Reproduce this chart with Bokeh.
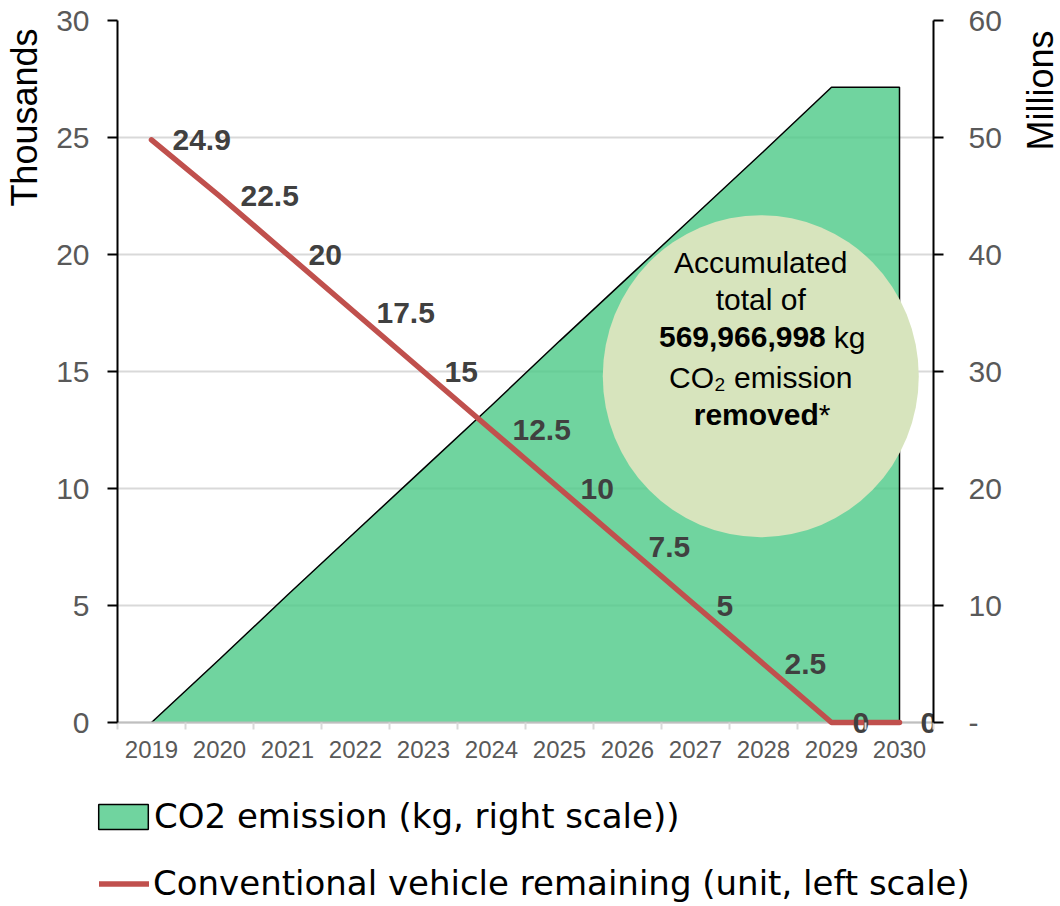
import math
from bokeh.plotting import figure
from bokeh.layouts import column, row
from bokeh.models import (Range1d, LinearAxis, FixedTicker, Grid, Legend, LegendItem,
                          ColumnDataSource, Label)
from bokeh.core.properties import value
from bokeh.embed import file_html
from bokeh.resources import INLINE

# ---------------- data ----------------
years = [2019, 2020, 2021, 2022, 2023, 2024, 2025, 2026, 2027, 2028, 2029, 2030]
vehicles_thousands = [24.9, 22.5, 20, 17.5, 15, 12.5, 10, 7.5, 5, 2.5, 0, 0]
co2_millions_kg = [0, 5.4, 10.9, 16.3, 21.7, 27.1, 32.6, 38.0, 43.4, 48.8, 54.3, 54.3]
left_ticks = [0, 5, 10, 15, 20, 25, 30]
right_ticks = [0, 10, 20, 30, 40, 50, 60]
left_title = "Thousands"
right_title = "Millions"
area_label = "CO2 emission (kg, right scale))"
line_label = "Conventional vehicle remaining (unit, left scale)"
bubble_lines = ["Accumulated", "total of", "569,966,998", "kg", "CO\u2082 emission", "removed", "*"]

FONT = "Liberation Sans"
LEG_FONT = "DejaVu Sans"
AREA_FILL = "#4cc987"
LINE_COLOR = "#c0504d"

MAIN_H = 780
LEG_H = 126
LT_W, RT_W = 45, 40
MAIN_W = 1060 - LT_W - RT_W

# frame extends 18px below the zero line so that labels sitting on zero are not clipped
L_MAX, R_MAX = left_ticks[-1], right_ticks[-1]
PAD_L = 18 / 702 * L_MAX
PAD_R = 18 / 702 * R_MAX
X0, X1 = years[0] - 0.5, years[-1] + 0.5

p = figure(width=MAIN_W, height=MAIN_H, output_backend="svg", toolbar_location=None,
           x_range=Range1d(X0, X1), y_range=Range1d(-PAD_L, L_MAX),
           min_border_left=117 - LT_W, min_border_right=1060 - RT_W - 933,
           min_border_top=20, min_border_bottom=40,
           x_axis_type=None, y_axis_type=None)
p.outline_line_color = None
p.frame_align = False
p.extra_y_ranges = {"right": Range1d(-PAD_R, R_MAX)}

# bottom axis (labels + category separators; the zero line is drawn below as a baseline)
minor = [y - 0.5 for y in years] + [years[-1] + 0.5]
xaxis = LinearAxis(ticker=FixedTicker(ticks=years, minor_ticks=minor))
xaxis.axis_line_color = None
xaxis.major_tick_line_color = None
xaxis.major_tick_out = 0
xaxis.major_tick_in = 0
xaxis.minor_tick_line_color = "#d9d9d9"
xaxis.minor_tick_line_width = 2
xaxis.minor_tick_in = 18
xaxis.minor_tick_out = -11
xaxis.major_label_standoff = 0
xaxis.major_label_text_font = FONT
xaxis.major_label_text_font_size = "24px"
xaxis.major_label_text_color = "#595959"
p.add_layout(xaxis, "below")


def style_value_axis(ax, standoff):
    ax.axis_line_color = "black"
    ax.axis_line_width = 2
    ax.major_tick_line_color = "black"
    ax.major_tick_line_width = 2
    ax.major_tick_out = 10
    ax.major_tick_in = 0
    ax.minor_tick_line_color = None
    ax.major_label_standoff = standoff
    ax.major_label_text_font = FONT
    ax.major_label_text_font_size = "30px"
    ax.major_label_text_color = "#595959"


yaxis = LinearAxis(ticker=FixedTicker(ticks=left_ticks), bounds=(0, L_MAX))
style_value_axis(yaxis, 18)
p.add_layout(yaxis, "left")

raxis = LinearAxis(y_range_name="right", ticker=FixedTicker(ticks=right_ticks),
                   bounds=(0, R_MAX))
style_value_axis(raxis, 25)
raxis.major_label_overrides = {0: "-"}
p.add_layout(raxis, "right")

# grid
grid = Grid(dimension=1, ticker=yaxis.ticker)
grid.grid_line_color = "#d9d9d9"
grid.grid_line_width = 2
p.add_layout(grid)

# area (right scale): fill + outline along its top and right edge
area_x = years + [years[-1], years[0]]
area_y = co2_millions_kg + [0, 0]
p.patch(area_x, area_y, y_range_name="right", fill_color=AREA_FILL, fill_alpha=0.8,
        line_color=None)
p.line(years + [years[-1]], co2_millions_kg + [0], y_range_name="right",
       line_color="black", line_width=1.5)

# zero baseline (category axis line)
p.line([X0, X1], [0, 0], line_color="#bfbfbf", line_width=2)

# bubble annotation
p.ellipse(x=[2027.96], y=[14.8], width=[316], height=[322], width_units="screen",
          height_units="screen", fill_color="#d7e4bd", line_color=None)

# line (left scale)
p.line(years, vehicles_thousands, line_color=LINE_COLOR, line_width=5.5,
       line_cap="round", line_join="round")

# data labels
lab_src = ColumnDataSource(dict(x=years, y=vehicles_thousands,
                                t=[f"{v:g}" for v in vehicles_thousands]))
p.text(x="x", y="y", text="t", source=lab_src, x_offset=21, text_align="left",
       text_baseline="middle", text_font=value(FONT), text_font_size="30px",
       text_font_style="bold", text_color="#404040")

# bubble text
bsrc = ColumnDataSource(dict(
    x=[2027.96] * 7, y=[14.8] * 7, t=bubble_lines,
    style=["normal", "normal", "bold", "normal", "normal", "bold", "normal"],
    align=["center", "center", "right", "left", "center", "right", "left"],
    xo=[0, 0, 65, 73, 0, 58, 58],
    yo=[-114, -77, -39, -39, 1, 38, 38],
))
p.text(x="x", y="y", text="t", source=bsrc, x_offset="xo", y_offset="yo",
       text_align="align", text_baseline="middle", text_font=value(FONT),
       text_font_size="30px", text_font_style="style", text_color="black")


# ---------------- axis-title strips (titles sit near the top, as in the original) ----
def title_strip(w, title, cx, top):
    f = figure(width=w, height=MAIN_H, output_backend="svg", toolbar_location=None,
               x_range=Range1d(0, w), y_range=Range1d(0, MAIN_H), min_border=0,
               x_axis_type=None, y_axis_type=None)
    f.outline_line_color = None
    f.frame_align = False
    f.xgrid.visible = False
    f.ygrid.visible = False
    f.add_layout(Label(x=cx, y=MAIN_H - top, text=title, angle=math.pi / 2,
                       text_align="right", text_baseline="middle", text_font=FONT,
                       text_font_size="36px", text_color="black"))
    return f


lt = title_strip(LT_W, left_title, 23.5, 28)
rt = title_strip(RT_W, right_title, 19.5, 30)

# ---------------- legend strip ----------------
p2 = figure(width=MAIN_W, height=LEG_H, output_backend="svg", toolbar_location=None,
            x_range=Range1d(0, 1), y_range=Range1d(0, 1), min_border=0,
            x_axis_type=None, y_axis_type=None)
p2.outline_line_color = None
p2.frame_align = False
p2.xgrid.visible = False
p2.ygrid.visible = False
# legend sample renderers (same series; their data lies outside this strip's ranges)
area_proxy = p2.patch(area_x, area_y, fill_color=AREA_FILL, fill_alpha=0.8,
                      line_color="black", line_width=1.5)
line_proxy = p2.line(years, vehicles_thousands, line_color=LINE_COLOR, line_width=5.5,
                     line_cap="round")


def mk_legend(item, gw, gh, loc, standoff):
    lg = Legend(items=[item], location=loc, orientation="vertical")
    lg.glyph_width = gw
    lg.glyph_height = gh
    lg.label_height = gh
    lg.label_standoff = standoff
    lg.padding = 0
    lg.margin = 0
    lg.spacing = 0
    lg.border_line_color = None
    lg.background_fill_alpha = 0
    lg.label_text_font = LEG_FONT
    lg.label_text_font_size = "34px"
    lg.label_text_color = "black"
    return lg


p2.add_layout(mk_legend(LegendItem(label=area_label, renderers=[area_proxy]), 62, 31,
                        (92 - LT_W, 70), 0))
p2.add_layout(mk_legend(LegendItem(label=line_label, renderers=[line_proxy]), 50, 31,
                        (99 - LT_W, 3), 4))

layout = row(lt, column(p, p2), rt)
open("out.html", "w").write(file_html(layout, INLINE))
